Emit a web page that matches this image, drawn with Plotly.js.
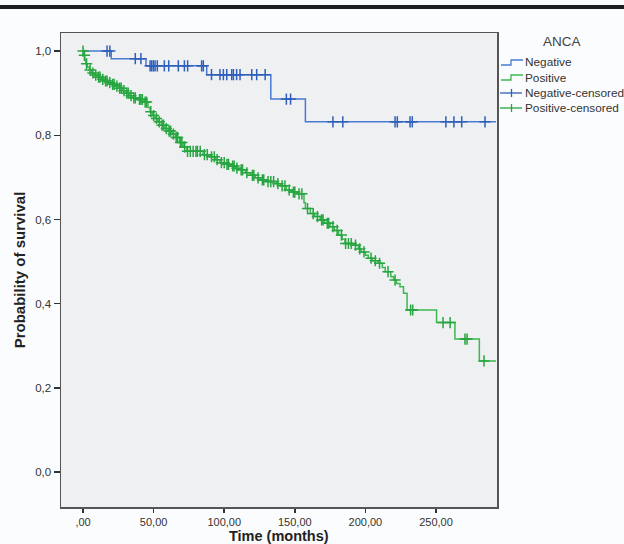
<!DOCTYPE html>
<html>
<head>
<meta charset="utf-8">
<script src="https://cdn.plot.ly/plotly-3.0.1.min.js"></script>
<style>
  html, body { margin: 0; padding: 0; background: #ffffff; overflow: hidden; width: 624px; height: 544px; }
  #chart { width: 624px; height: 544px; display: block; }
</style>
</head>
<body>
<div id="chart"></div>
<script>
// ---- Data (Kaplan-Meier, ANCA) ----
// Negative group: step times (months) and survival after each step
const negTimes = [0, 20, 44.6, 87.6, 133, 157.5, 292.5];
const negSurv  = [1.0, 0.982, 0.965, 0.944, 0.886, 0.832, 0.832];
// Negative group: censored times
const negCensored = [17, 19, 37, 41, 47.5, 48.6, 49.8, 51, 52.6, 57.6, 60.7, 67.5, 71.8, 74.1, 84, 85.2,
  91, 97, 99.4, 101.8, 105.3, 106.5, 108.8, 111.2, 119.5, 123, 129,
  144, 147, 177, 184, 221, 222.6, 231.6, 233.2, 257, 262.7, 268.2, 284.7];

// Positive group: step times and survival after each step
const posTimes = [0, 0.5, 1.2, 2.0, 3.0, 4.5, 6.0, 8.0, 10.5, 13.0, 15.5, 18.0, 20.5, 23.0, 25.5, 28.0,
  30.5, 33.0, 35.5, 39.0, 43.5, 46.0, 47.5, 49.0, 51.0, 53.0, 55.5, 58.0, 60.5, 63.0, 65.5, 68.5,
  71.0, 73.5, 85, 90, 94, 97, 101, 104, 108, 111, 115, 118.5, 122, 125.5, 130, 137, 140, 144,
  148, 152, 156.5, 157.5, 161, 164, 168, 171, 175, 178, 181, 183.5, 185.5, 192, 195, 197, 200,
  202, 205, 209, 212, 214, 218, 220, 222, 224.5, 227, 229.5, 250.4, 263.4, 280.7, 292.5];
const posSurv = [1.0, 0.990, 0.980, 0.970, 0.962, 0.955, 0.948, 0.943, 0.938, 0.933, 0.929, 0.925, 0.921, 0.917, 0.912, 0.906,
  0.900, 0.894, 0.889, 0.885, 0.879, 0.866, 0.856, 0.847, 0.840, 0.832, 0.824, 0.816, 0.810, 0.803, 0.795, 0.783,
  0.772, 0.762, 0.754, 0.749, 0.742, 0.735, 0.731, 0.727, 0.722, 0.718, 0.711, 0.705, 0.699, 0.694, 0.690, 0.685, 0.680, 0.670,
  0.665, 0.661, 0.640, 0.626, 0.614, 0.607, 0.599, 0.591, 0.583, 0.574, 0.563, 0.553, 0.543, 0.539, 0.530, 0.523, 0.515,
  0.508, 0.502, 0.496, 0.486, 0.476, 0.464, 0.456, 0.448, 0.440, 0.425, 0.385, 0.355, 0.316, 0.264, 0.264];
// Positive group: censored times
const posCensored = [0, 1, 2.5, 5, 7, 9, 11, 12, 14, 16, 17, 19, 21, 22, 24, 26, 27, 29, 31, 32, 34, 36, 37,
  40, 41, 42, 44, 45, 48, 50, 52, 54, 56, 57, 59, 61, 62, 64, 66, 67, 69, 70, 72, 74, 76, 78, 80, 81, 83,
  86, 88, 91, 93, 95, 98, 100, 102, 103, 106, 107, 109, 112, 113, 116, 120, 121, 124, 127, 128, 131, 133,
  135, 138, 141, 143, 146, 149, 150, 153, 155, 159, 163, 166, 169, 170, 173, 174, 177, 180, 183, 186, 188,
  190, 193, 196, 199, 204, 207, 210, 216, 221, 232, 233.5, 255, 260, 270.5, 272, 284];

const xTickVals = [0, 50, 100, 150, 200, 250];
const xTickText = [',00', '50,00', '100,00', '150,00', '200,00', '250,00'];
const yTickVals = [0, 0.2, 0.4, 0.6, 0.8, 1.0];
const yTickText = ['0,0', '0,2', '0,4', '0,6', '0,8', '1,0'];

const legendTitle = 'ANCA';
const legendNames = ['Negative', 'Positive', 'Negative-censored', 'Positive-censored'];

// survival at a censored time = value of the step curve at that time
function survAt(times, surv, t) {
  let s = surv[0];
  for (let i = 0; i < times.length; i++) { if (times[i] <= t) s = surv[i]; else break; }
  return s;
}

const blueLine = '#4a7bd4', blueMark = '#2f5fb8';
const greenLine = '#3cb850', greenMark = '#27a540';
const legendColors = [blueLine, greenLine, blueMark, greenMark];

const traces = [
  { x: negTimes, y: negSurv, mode: 'lines', line: { shape: 'hv', color: blueLine, width: 1.5 }, name: legendNames[0] },
  { x: posTimes, y: posSurv, mode: 'lines', line: { shape: 'hv', color: greenLine, width: 1.5 }, name: legendNames[1] },
  { x: negCensored, y: negCensored.map(t => survAt(negTimes, negSurv, t)), mode: 'markers',
    marker: { symbol: 'cross-thin', size: 8, line: { color: blueMark, width: 1.5 } }, name: legendNames[2] },
  { x: posCensored, y: posCensored.map(t => survAt(posTimes, posSurv, t)), mode: 'markers',
    marker: { symbol: 'cross-thin', size: 8, line: { color: greenMark, width: 1.5 } }, name: legendNames[3] }
];

const font = 'Liberation Sans, Arial, sans-serif';

// plot area in pixels
const W = 624, H = 544, L = 61, R = 127, T = 33, B = 37;
const pw = W - L - R, ph = H - T - B;
const px = p => (p - L) / pw;        // pixel x -> paper x
const py = p => (H - B - p) / ph;    // pixel y -> paper y

// custom SPSS-like legend (step symbols for lines, cross for censored)
const rowY = [62.5, 77.5, 93, 108];
const legShapes = [];
const legAnn = [];
legAnn.push({ xref: 'paper', yref: 'paper', x: px(562), y: py(41.5), xanchor: 'center', yanchor: 'middle',
  text: legendTitle, showarrow: false, font: { family: font, size: 13.5, color: '#444' } });
rowY.forEach((y, i) => {
  const c = legendColors[i];
  legAnn.push({ xref: 'paper', yref: 'paper', x: px(523), y: py(y), xanchor: 'left', yanchor: 'middle',
    text: legendNames[i], showarrow: false, font: { family: font, size: 11.8, color: '#333' } });
  if (i < 2) {
    legShapes.push({ type: 'path', xref: 'paper', yref: 'paper',
      path: `M ${px(501)} ${py(y + 2.5)} L ${px(511)} ${py(y + 2.5)} L ${px(511)} ${py(y - 2.5)} L ${px(523)} ${py(y - 2.5)}`,
      line: { color: c, width: 1.3 } });
  } else {
    legShapes.push({ type: 'line', xref: 'paper', yref: 'paper', x0: px(500), x1: px(522), y0: py(y), y1: py(y),
      line: { color: c, width: 1.3 } });
    legShapes.push({ type: 'line', xref: 'paper', yref: 'paper', x0: px(511.5), x1: px(511.5), y0: py(y - 4), y1: py(y + 4),
      line: { color: c, width: 1.3 } });
  }
});

// x-axis title placed as a text annotation below the tick labels
legAnn.push({ xref: 'paper', yref: 'paper', x: 0.5, y: py(536), xanchor: 'center', yanchor: 'middle',
  text: '<b>Time (months)</b>', showarrow: false, font: { family: font, size: 14.5, color: '#222' } });

const layout = {
  width: W, height: H,
  margin: { l: L, r: R, t: T, b: B },
  paper_bgcolor: '#fbfcfd',
  plot_bgcolor: '#eef0f1',
  font: { family: font, color: '#333', size: 11.5 },
  showlegend: false,
  xaxis: {
    range: [-15.6, 293.2], tickvals: xTickVals, ticktext: xTickText,
    ticks: 'outside', ticklen: 4, tickwidth: 1.5, tickcolor: '#333',
    showline: true, mirror: true, linecolor: '#555', linewidth: 1.5,
    showgrid: false, zeroline: false, automargin: false,
    tickfont: { family: font, size: 11, color: '#333' }
  },
  yaxis: {
    range: [-0.083, 1.043], tickvals: yTickVals, ticktext: yTickText,
    ticks: 'outside', ticklen: 6, tickwidth: 1.5, tickcolor: '#333',
    showline: true, mirror: true, linecolor: '#555', linewidth: 1.5,
    showgrid: false, zeroline: false, automargin: false,
    tickfont: { family: font, size: 11.5, color: '#333' },
    title: { text: '<b>Probability of survival</b>', font: { family: font, size: 15, color: '#222' }, standoff: 6 }
  },
  annotations: legAnn,
  shapes: [
    { type: 'rect', xref: 'paper', yref: 'paper', x0: px(-5), x1: px(630), y0: py(9), y1: py(5),
      fillcolor: '#1e1e1e', line: { width: 0 } }
  ].concat(legShapes)
};

Plotly.newPlot('chart', traces, layout, { displayModeBar: false, staticPlot: true });
</script>
</body>
</html>
